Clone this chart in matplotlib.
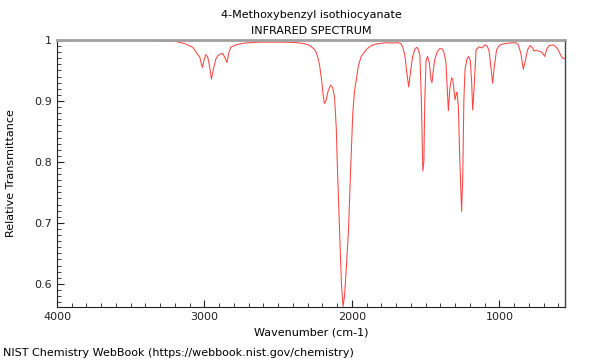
import matplotlib
matplotlib.use("Agg")
import matplotlib.pyplot as plt
from matplotlib.ticker import MultipleLocator, FuncFormatter

title_line1 = "4-Methoxybenzyl isothiocyanate"
title_line2 = "INFRARED SPECTRUM"
x_label = "Wavenumber (cm-1)"
y_label = "Relative Transmittance"
footer = "NIST Chemistry WebBook (https://webbook.nist.gov/chemistry)"

wavenumber = [
    4000, 3709, 3370, 3201, 3133, 3079, 3045, 3032, 3022, 3014, 3005, 2991, 2978,
    2964, 2953, 2941, 2924, 2910, 2890, 2876, 2863, 2847, 2836, 2822, 2788, 2727,
    2626, 2470, 2389, 2321, 2287, 2260, 2242, 2230, 2220, 2206, 2193, 2186, 2176,
    2162, 2145, 2131, 2118, 2106, 2097, 2084, 2071, 2060, 2050, 2037, 2023, 2010,
    1994, 1983, 1971, 1956, 1937, 1903, 1874, 1836, 1768, 1732, 1691, 1671, 1656,
    1641, 1627, 1615, 1604, 1588, 1573, 1561, 1550, 1539, 1529, 1519, 1512, 1506,
    1497, 1487, 1475, 1464, 1457, 1448, 1438, 1421, 1404, 1385, 1373, 1362, 1353,
    1346, 1336, 1324, 1316, 1301, 1292, 1287, 1278, 1268, 1256, 1248, 1241, 1233,
    1221, 1209, 1197, 1188, 1181, 1173, 1158, 1136, 1118, 1098, 1082, 1069, 1057,
    1046, 1035, 1019, 1001, 978, 933, 888, 872, 854, 838, 825, 809, 791, 778, 764,
    750, 737, 719, 706, 692, 679, 662, 633, 618, 606, 588, 572, 556,
]
transmittance = [
    0.999, 0.9995, 0.9995, 0.998, 0.994, 0.988, 0.976, 0.972, 0.962, 0.955, 0.965,
    0.976, 0.972, 0.955, 0.936, 0.950, 0.968, 0.974, 0.977, 0.978, 0.972, 0.963,
    0.978, 0.988, 0.992, 0.995, 0.9965, 0.9965, 0.996, 0.994, 0.991, 0.986, 0.980,
    0.970, 0.960, 0.935, 0.905, 0.896, 0.900, 0.916, 0.926, 0.922, 0.907, 0.855,
    0.78, 0.689, 0.60, 0.563, 0.58, 0.63, 0.689, 0.78, 0.880, 0.915, 0.934, 0.958,
    0.973, 0.984, 0.990, 0.9934, 0.9956, 0.995, 0.9956, 0.9945, 0.989, 0.975, 0.945,
    0.923, 0.945, 0.973, 0.985, 0.988, 0.985, 0.975, 0.90, 0.785, 0.80, 0.90, 0.967,
    0.973, 0.962, 0.935, 0.930, 0.950, 0.968, 0.981, 0.986, 0.985, 0.977, 0.962,
    0.92, 0.884, 0.920, 0.938, 0.935, 0.902, 0.912, 0.914, 0.89, 0.80, 0.719, 0.78,
    0.90, 0.951, 0.968, 0.973, 0.966, 0.93, 0.885, 0.915, 0.984, 0.989, 0.987,
    0.992, 0.990, 0.981, 0.955, 0.929, 0.955, 0.984, 0.991, 0.9934, 0.9950, 0.9956,
    0.992, 0.978, 0.952, 0.965, 0.984, 0.991, 0.988, 0.982, 0.983, 0.982, 0.981,
    0.978, 0.973, 0.985, 0.991, 0.992, 0.989, 0.986, 0.977, 0.970, 0.970,
]

FS = 8

fig = plt.figure(figsize=(6, 3.6), dpi=100)
ax = fig.add_axes([57/600, 1-307/360, (565-57)/600, (307-40)/360])
ax.plot(wavenumber, transmittance, color="#ff3030", lw=0.75, alpha=0.9)
ax.set_xlim(4000, 555)
ax.set_ylim(0.562, 1.0)

ax.xaxis.set_major_locator(MultipleLocator(1000))
ax.xaxis.set_minor_locator(MultipleLocator(100))
ax.yaxis.set_major_locator(MultipleLocator(0.1))
ax.yaxis.set_minor_locator(MultipleLocator(0.01))
ax.yaxis.set_major_formatter(FuncFormatter(lambda v, p: f"{v:g}"))
ax.tick_params(which="both", direction="in", top=False, right=False, labelsize=FS, colors="#222222")
ax.tick_params(which="major", length=5, width=0.8)
ax.tick_params(which="minor", length=3, width=0.6)

ax.spines["top"].set_color("#a0a0a0")
ax.spines["top"].set_linewidth(2)
ax.spines["right"].set_color("#404040")
ax.spines["right"].set_linewidth(1)
ax.spines["left"].set_color("#222222")
ax.spines["bottom"].set_color("#222222")

ax.set_xlabel(x_label, fontsize=FS, labelpad=4)
ax.set_ylabel(y_label, fontsize=FS, labelpad=13)
ax.set_title(title_line1 + "\n" + title_line2, fontsize=FS, pad=4, linespacing=1.75)
fig.text(3/600, 1-353/360, footer, fontsize=FS, ha="left", va="center")

fig.savefig("out.png", dpi=100)
